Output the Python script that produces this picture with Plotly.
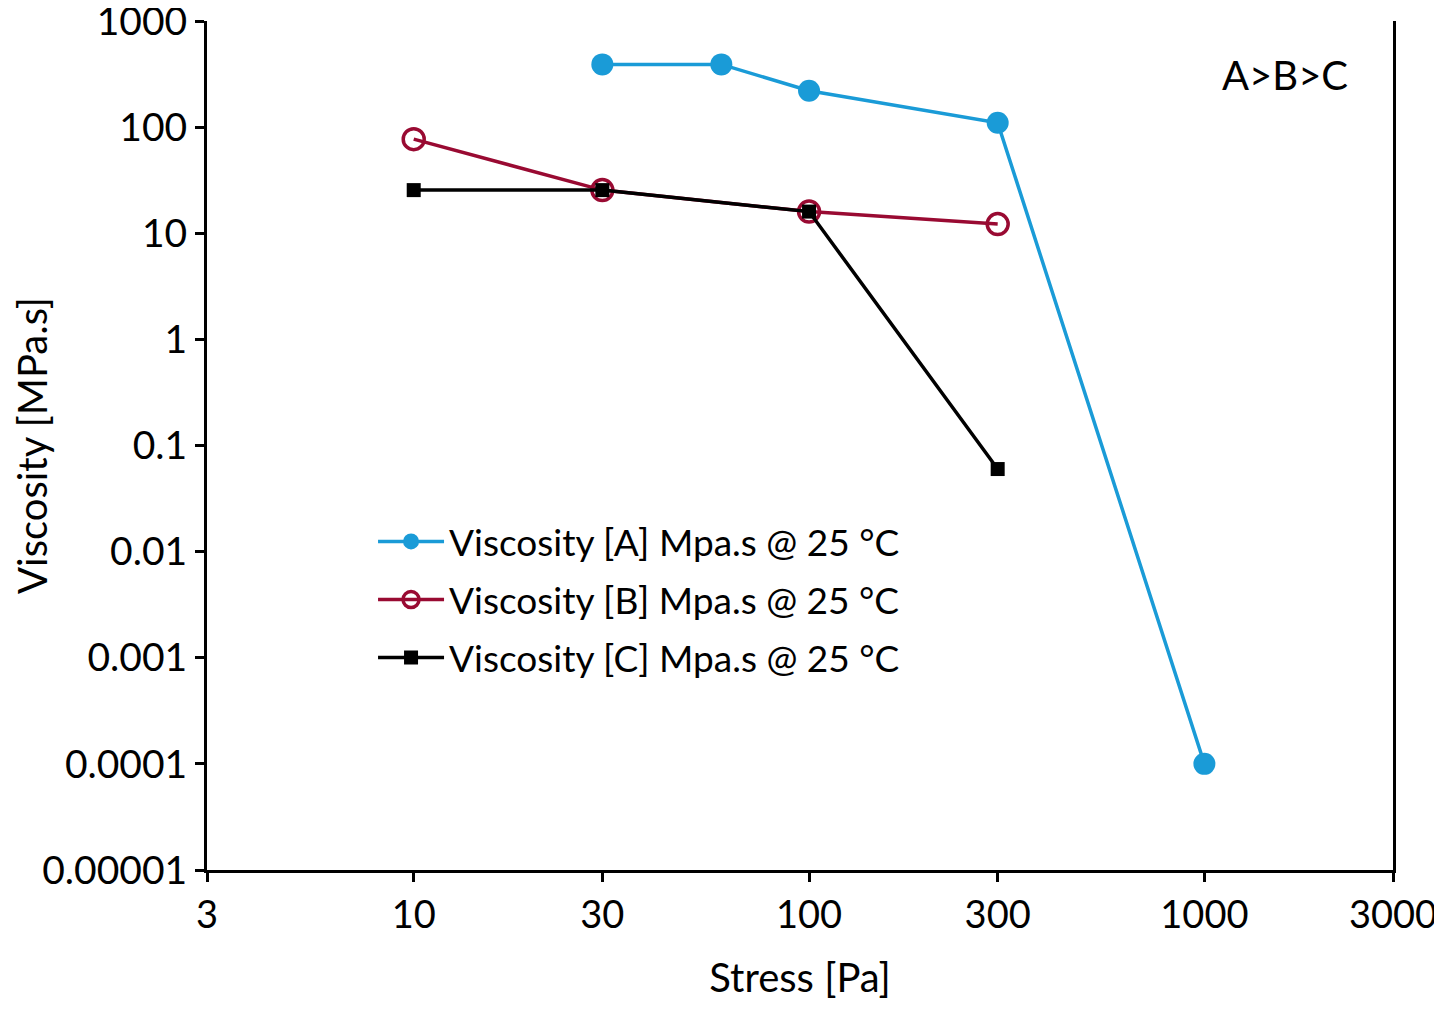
import plotly.graph_objects as go

# stress [Pa] and viscosity [MPa.s]
stress_a = [30, 60, 100, 300, 1000]
visc_a = [390, 390, 220, 110, 0.0001]

stress_b = [10, 30, 100, 300]
visc_b = [77, 25.5, 16, 12.2]

stress_c = [10, 30, 100, 300]
visc_c = [25.5, 25.5, 16, 0.06]

x_ticks = [3, 10, 30, 100, 300, 1000, 3000]
y_ticks = [1000, 100, 10, 1, 0.1, 0.01, 0.001, 0.0001, 0.00001]
y_ticklabels = ["1000", "100", "10", "1", "0.1", "0.01", "0.001", "0.0001", "0.00001"]

FONT = "Lato"
blue = "#1a9bd7"
red = "#990a32"

fig = go.Figure()
fig.add_trace(go.Scatter(
    x=stress_a, y=visc_a, mode="lines+markers",
    name="Viscosity [A] Mpa.s @ 25 °C", legendgroup="a",
    line=dict(color=blue, width=3.5),
    marker=dict(symbol="circle", size=22, color=blue),
))
fig.add_trace(go.Scatter(
    x=stress_b, y=visc_b, mode="lines+markers",
    name="Viscosity [B] Mpa.s @ 25 °C", legendgroup="b",
    line=dict(color=red, width=3.5),
    marker=dict(symbol="circle-open", size=21, color=red, line=dict(width=3.5, color=red)),
))
fig.add_trace(go.Scatter(
    x=stress_c, y=visc_c, mode="lines+markers",
    name="Viscosity [C] Mpa.s @ 25 °C", legendgroup="c",
    line=dict(color="black", width=3.5),
    marker=dict(symbol="square", size=14, color="black"),
))

fig.add_annotation(
    x=0.909, y=0.936, xref="paper", yref="paper",
    xanchor="center", yanchor="middle",
    text="A>B>C", showarrow=False,
    font=dict(family=FONT, size=40, color="black"),
)
# y axis title placed by hand so it sits as far left as in the original
fig.add_annotation(
    x=-0.148, y=0.5, xref="paper", yref="paper",
    xanchor="center", yanchor="middle", textangle=-90,
    text="Viscosity [MPa.s]", showarrow=False,
    font=dict(family=FONT, size=40, color="black"),
)

# the page adds an 8px body margin; keep the height inside the window (no scrollbar)
fig.update_layout(
    width=1434, height=998,
    margin=dict(l=199, r=49, t=13, b=136),
    paper_bgcolor="white",
    plot_bgcolor="white",
    font=dict(family=FONT, color="black"),
    showlegend=True,
    legend=dict(
        x=0.14, y=0.423, xanchor="left", yanchor="top",
        font=dict(family=FONT, size=37, color="black"),
        bgcolor="rgba(0,0,0,0)",
        tracegroupgap=7,
        itemwidth=66,
    ),
    xaxis=dict(
        type="log", range=[0.4771, 3.4771], automargin=False,
        tickvals=x_ticks, ticktext=[str(v) for v in x_ticks],
        ticks="outside", ticklen=9, tickwidth=3, tickcolor="black",
        ticklabeloverflow="allow",
        showline=True, linewidth=3, linecolor="black",
        showgrid=False, zeroline=False,
        tickfont=dict(family=FONT, size=38),
        title=dict(text="Stress [Pa]", font=dict(family=FONT, size=40), standoff=30),
    ),
    yaxis=dict(
        type="log", range=[-5, 3], automargin=False,
        tickvals=y_ticks, ticktext=y_ticklabels,
        ticks="outside", ticklen=9, tickwidth=3, tickcolor="black",
        ticklabeloverflow="allow",
        showline=True, linewidth=3, linecolor="black", mirror=True,
        showgrid=False, zeroline=False,
        tickfont=dict(family=FONT, size=39),
    ),
)

fig.write_html("out.html")
